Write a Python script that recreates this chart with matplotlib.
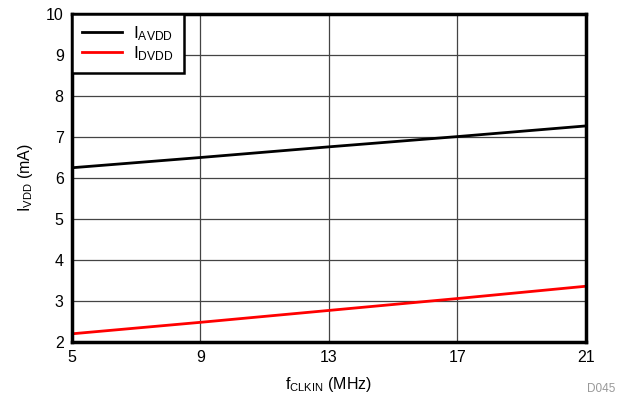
import matplotlib
matplotlib.use("Agg")
import matplotlib.pyplot as plt

plt.rcParams['font.family'] = ['Liberation Sans', 'DejaVu Sans']
plt.rcParams['mathtext.default'] = 'regular'

# data
f_clkin = [5, 9, 13, 17, 21]
i_avdd = [6.25, 6.5, 6.76, 7.01, 7.27]
i_dvdd = [2.2, 2.48, 2.77, 3.06, 3.36]

fig = plt.figure(figsize=(6.18, 4.0), dpi=100)
ax = fig.add_axes([0.1165, 0.145, 0.8315, 0.82])

ax.plot(f_clkin, i_avdd, color="black", lw=2, label="$I_{AVDD}$")
ax.plot(f_clkin, i_dvdd, color="red", lw=2, label="$I_{DVDD}$")

ax.set_xlim(5, 21)
ax.set_ylim(2, 10)
ax.set_xticks([5, 9, 13, 17, 21])
ax.set_yticks(range(2, 11))
ax.grid(True, color="#444444", lw=0.9)
ax.tick_params(length=0, labelsize=11.5, pad=6)
for s in ax.spines.values():
    s.set_linewidth(2.5)

ax.set_xlabel("$f_{CLKIN}$ (MHz)", fontsize=11.5, labelpad=7)
ax.set_ylabel("$I_{VDD}$ (mA)", fontsize=11.5, labelpad=8)

leg = ax.legend(loc="upper left", fontsize=12.5, fancybox=False, framealpha=1,
                edgecolor="black", borderaxespad=0, handlelength=2.3,
                handletextpad=0.6, labelspacing=0.05, borderpad=0.6)
leg.get_frame().set_linewidth(1.8)

fig.text(0.995, 0.012, "D045", color="#999999", fontsize=8.5, ha="right", va="bottom")

fig.savefig("out.png")
